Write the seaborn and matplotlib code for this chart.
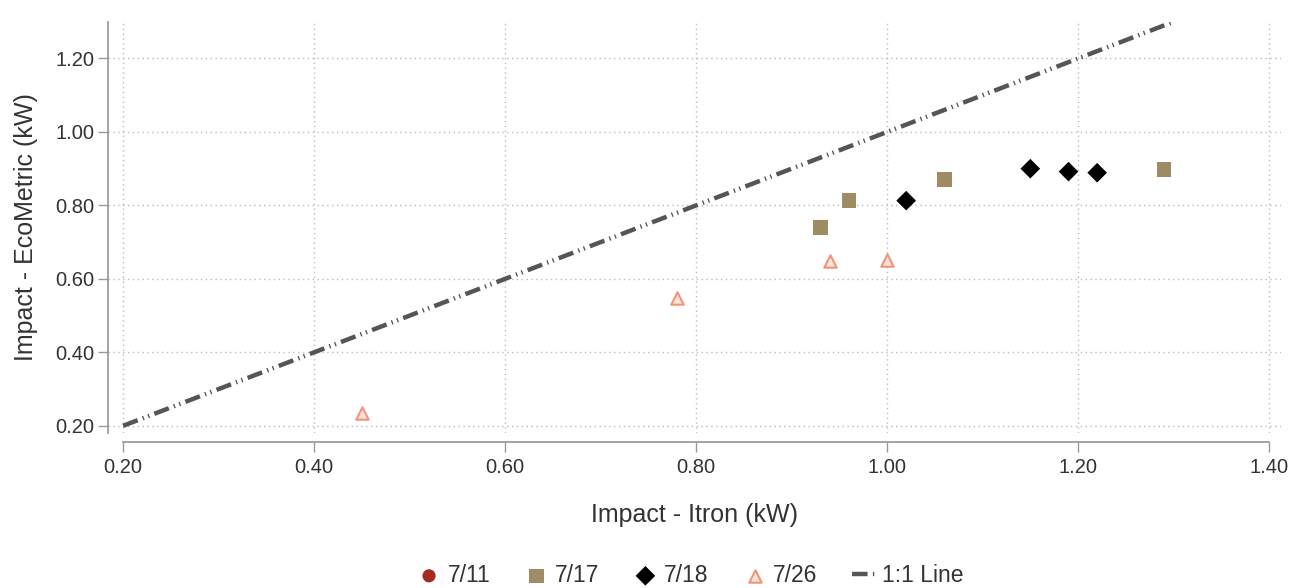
import matplotlib
matplotlib.use("Agg")
import matplotlib.pyplot as plt
import seaborn as sns
import pandas as pd

# Data
x_711 = []
y_711 = []
x_717 = [0.93, 0.96, 1.06, 1.29]
y_717 = [0.74, 0.813, 0.87, 0.898]
x_718 = [1.02, 1.15, 1.19, 1.22]
y_718 = [0.813, 0.90, 0.892, 0.889]
x_726 = [0.45, 0.78, 0.94, 1.00]
y_726 = [0.235, 0.549, 0.650, 0.652]
line_x = [0.20, 1.30]
line_y = [0.20, 1.30]
x_ticks = [0.20, 0.40, 0.60, 0.80, 1.00, 1.20, 1.40]
y_ticks = [0.20, 0.40, 0.60, 0.80, 1.00, 1.20]

sns.set_theme(style="white")
plt.rcParams['font.family'] = ['Liberation Sans', 'DejaVu Sans']

fig = plt.figure(figsize=(13, 5.88), dpi=100)
ax = fig.add_axes([0.083, 0.264, 0.902, 0.699])

sns.lineplot(x=line_x, y=line_y, ax=ax, color="#555555", linewidth=3.2,
             dashes=False, label="1:1 Line", zorder=2)
ax.lines[-1].set_dashes([3.5, 1.2, 0.3, 1.0, 0.3, 1.2])

ax.scatter(x_711, y_711, marker="o", color="#A52A22", s=90, edgecolor="none", label="7/11", zorder=3)
sns.scatterplot(x=x_717, y=y_717, ax=ax, marker="s", color="#A08C64", s=110,
                edgecolor="none", label="7/17", zorder=3)
sns.scatterplot(x=x_718, y=y_718, ax=ax, marker="D", color="black", s=100,
                edgecolor="none", label="7/18", zorder=3)
sns.scatterplot(x=x_726, y=y_726, ax=ax, marker="^", facecolor="#FCE3D8",
                edgecolor="#F0957C", linewidth=1.5, s=80, label="7/26", zorder=3)

ax.set_xlim(0.184, 1.412)
ax.set_ylim(0.181, 1.30)
ax.set_xticks(x_ticks)
ax.set_yticks(y_ticks)
ax.set_xticklabels([f"{v:.2f}" for v in x_ticks])
ax.set_yticklabels([f"{v:.2f}" for v in y_ticks])
ax.tick_params(axis="both", which="major", direction="out", length=7, width=1,
               color="#999999", labelsize=14.5, labelcolor="#333333", bottom=True, left=True)
ax.tick_params(axis="x", pad=4)
ax.tick_params(axis="y", pad=3)

ax.grid(True, linestyle=(0, (1, 2.5)), color="#BBBBBB", linewidth=1)
ax.set_axisbelow(True)

for s in ["top", "right"]:
    ax.spines[s].set_visible(False)
ax.spines["bottom"].set_position(("outward", 7))
ax.spines["bottom"].set_bounds(0.20, 1.40)
ax.spines["bottom"].set_color("#999999")
ax.spines["left"].set_color("#999999")

ax.set_xlabel("Impact - Itron (kW)", fontsize=18, color="#333333", labelpad=19)
ax.set_ylabel("Impact - EcoMetric (kW)", fontsize=18, color="#333333", labelpad=12)

handles, labels = ax.get_legend_handles_labels()
order = ["7/11", "7/17", "7/18", "7/26", "1:1 Line"]
hmap = dict(zip(labels, handles))
leg = ax.legend([hmap[k] for k in order], order, loc="lower center",
                bbox_to_anchor=(0.497, -0.425), ncol=5, frameon=False, fontsize=16.5,
                handlelength=1.0, columnspacing=1.5, handletextpad=0.32)
for t in leg.get_texts():
    t.set_color("#333333")

fig.savefig("out.png", dpi=100, facecolor="white")
